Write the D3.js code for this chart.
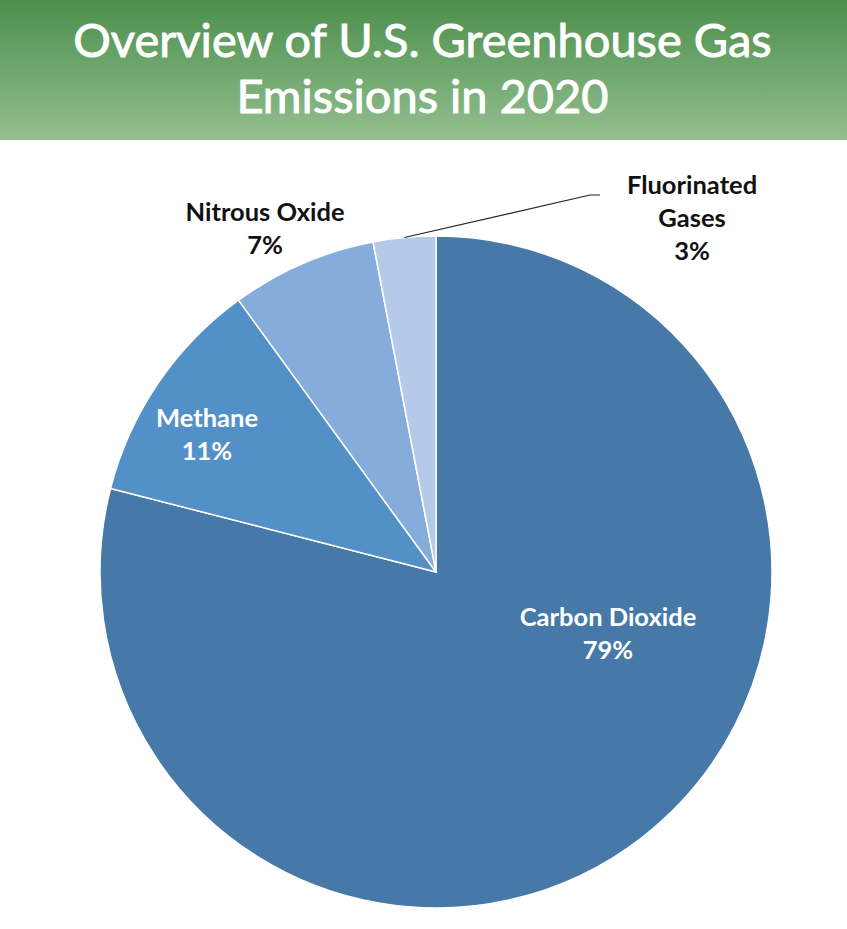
<!DOCTYPE html>
<html>
<head>
<meta charset="utf-8">
<script src="https://cdn.jsdelivr.net/npm/d3@7"></script>
<style>
  body { margin: 0; background: #fff; }
  svg { display: block; }
</style>
</head>
<body>
<svg id="chart"></svg>
<script>
// data
const gases = ['Carbon Dioxide', 'Methane', 'Nitrous Oxide', 'Fluorinated Gases'];
const shares = [79, 11, 7, 3];
const titleLines = ['Overview of U.S. Greenhouse Gas', 'Emissions in 2020'];

// constants
const width = 847;
const height = 929;
const headerHeight = 140;
const cx = 436;
const cy = 572;
const radius = 336;

const colors = ['#4679a8', '#5490c8', '#85acda', '#b5cae8'];

// label placement (offsets from pie centre) and colour
const labelLayout = {
  'Carbon Dioxide': { dx: 172, dy: 54, fill: '#fff', lines: ['Carbon Dioxide'] },
  'Methane': { dx: -229, dy: -145, fill: '#fff', lines: ['Methane'] },
  'Nitrous Oxide': { dx: -171, dy: -351, fill: '#111', lines: ['Nitrous Oxide'] },
  'Fluorinated Gases': { dx: 256, dy: -378, fill: '#111', lines: ['Fluorinated', 'Gases'] },
};

const svg = d3.select('#chart')
  .attr('width', width)
  .attr('height', height);

// header band
const defs = svg.append('defs');
const grad = defs.append('linearGradient')
  .attr('id', 'hdr')
  .attr('x1', 0).attr('y1', 0).attr('x2', 0).attr('y2', 1);
grad.append('stop').attr('offset', '0%').attr('stop-color', '#4c8f4c');
grad.append('stop').attr('offset', '100%').attr('stop-color', '#93bf8f');

svg.append('rect')
  .attr('width', width)
  .attr('height', headerHeight)
  .attr('fill', 'url(#hdr)');

svg.selectAll('.title')
  .data(titleLines)
  .enter().append('text')
  .attr('class', 'title')
  .attr('x', width / 2 - 1)
  .attr('y', (d, i) => 57 + i * 56)
  .attr('text-anchor', 'middle')
  .attr('font-family', 'Lato, "Open Sans", sans-serif')
  .attr('font-size', '47px')
  .attr('fill', '#fff')
  .attr('stroke', '#fff')
  .attr('stroke-width', 0.9)
  .text(d => d);

// pie
const data = gases.map((g, i) => ({ gas: g, value: shares[i] }));

const pie = d3.pie()
  .sort(null)
  .value(d => d.value);

const arc = d3.arc()
  .innerRadius(0)
  .outerRadius(radius);

const arcs = pie(data);

const chart = svg.append('g')
  .attr('transform', `translate(${cx},${cy})`);

chart.selectAll('path')
  .data(arcs)
  .enter().append('path')
  .attr('d', arc)
  .attr('fill', (d, i) => colors[i])
  .attr('stroke', '#fff')
  .attr('stroke-width', 1.5);

// leader line for the small slice
const fl = arcs[3];
const mid = (fl.startAngle + fl.endAngle) / 2;
const p0 = [Math.sin(mid) * radius, -Math.cos(mid) * radius];
chart.append('polyline')
  .attr('points', [p0, [154, -377], [164, -377]].map(p => p.join(',')).join(' '))
  .attr('fill', 'none')
  .attr('stroke', '#222')
  .attr('stroke-width', 1.2);

// labels
const labels = chart.selectAll('.label')
  .data(arcs)
  .enter().append('text')
  .attr('class', 'label')
  .attr('text-anchor', 'middle')
  .attr('font-family', 'Lato, "Open Sans", sans-serif')
  .attr('font-weight', 'bold')
  .attr('font-size', '25.5px')
  .attr('fill', d => labelLayout[d.data.gas].fill)
  .attr('transform', d => {
    const l = labelLayout[d.data.gas];
    return `translate(${l.dx},${l.dy})`;
  });

labels.each(function (d) {
  const l = labelLayout[d.data.gas];
  const t = d3.select(this);
  const rows = l.lines.concat([d.data.value + '%']);
  rows.forEach((r, i) => {
    t.append('tspan')
      .attr('x', 0)
      .attr('y', i * 33)
      .text(r);
  });
});
</script>
</body>
</html>
